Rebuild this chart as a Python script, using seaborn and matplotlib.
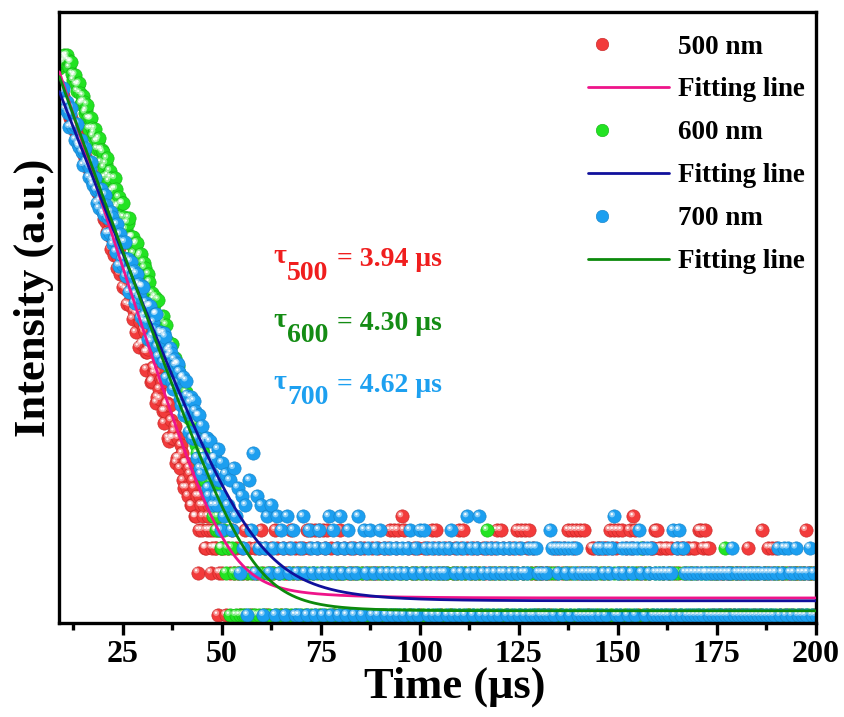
import numpy as np
import pandas as pd
import matplotlib
matplotlib.use("Agg")
import matplotlib.pyplot as plt
from matplotlib.path import Path
from matplotlib.lines import Line2D
from matplotlib.legend_handler import HandlerTuple
from matplotlib.ticker import FixedLocator, MultipleLocator, NullLocator
import seaborn as sns

# ---------------------------------------------------------------------------
# Decay traces (photon counts).
# Fast part: 0.25 us bins from 9.0 us; tail: 0.5 us bins from 50.0 us.
# ---------------------------------------------------------------------------
decay_t0, decay_step = 9.0, 0.25
tail_t0, tail_step = 50.0, 0.5

decay_500 = [
    5500, 5450, 5000, 4950, 4800, 4400, 4250, 4200, 3850, 3800, 3650, 3350, 3350, 3100, 2950, 2950, 2700, 2700, 2480, 2450,
    2350, 2180, 2150, 2000, 1900, 1880, 1750, 1720, 1600, 1570, 1460, 1440, 1330, 1320, 1230, 1200, 1110, 1100, 1020, 1000,
    955, 868, 915, 749, 794, 641, 788, 612, 517, 644, 495, 608, 394, 473, 520, 359, 384, 425, 289, 347,
    399, 263, 297, 327, 212, 268, 305, 205, 160, 229, 238, 157, 177, 212, 126, 144, 166, 101, 137, 150,
    80, 120, 135, 84, 85, 107, 102, 73, 55, 73, 77, 83, 85, 45, 46, 57, 52, 56, 32, 35,
    52, 40, 34, 47, 45, 28, 23, 28, 31, 32, 18, 17, 31, 24, 18, 18, 20, 22, 12, 13,
    18, 13, 11, 16, 14, 9, 8, 12, 12, 8, 7, 11, 10, 6, 6, 9, 8, 5, 5, 7,
    2, 4, 7, 6, 4, 5, 6, 3, 3, 4, 5, 6, 4, 2, 3, 4, 5, 3, 3, 5, 1, 2, 4, 3,
]
tail_500 = [
    2, 3, 1, 3, 2, 4, 2, 3, 2, 1, 3, 2, 4, 2, 3, 1, 2, 3,
    2, 3, 4, 2, 3, 1, 2, 3, 2, 4, 3, 2, 1, 3, 2, 2, 3, 4, 2, 3,
    2, 3, 2, 3, 2, 4, 3, 4, 2, 4, 3, 4, 2, 4, 3, 4, 2, 3, 1, 2,
    3, 2, 4, 2, 3, 1, 2, 3, 2, 3, 2, 1, 3, 2, 3, 2, 1, 2, 3, 2,
    2, 3, 2, 1, 3, 2, 3, 4, 2, 4, 3, 4, 2, 5, 4, 2, 3, 1, 2, 3,
    2, 3, 1, 2, 3, 2, 3, 2, 4, 3, 4, 2, 3, 1, 2, 3, 2, 3, 1, 2,
    3, 2, 4, 3, 4, 2, 3, 1, 2, 3, 2, 3, 2, 1, 3, 2, 3, 2, 3, 2,
    3, 4, 2, 4, 3, 2, 1, 3, 2, 3, 2, 4, 3, 4, 2, 4, 3, 4, 2, 3,
    2, 2, 1, 2, 2, 1, 2, 2, 1, 2, 3, 2, 3, 1, 2, 3, 2, 4, 2, 4,
    3, 4, 2, 4, 2, 4, 2, 1, 2, 3, 3, 2, 3, 3, 2, 3, 3, 2, 4, 3,
    4, 3, 4, 2, 4, 2, 3, 2, 4, 3, 5, 4, 2, 1, 2, 3, 2, 1, 2, 3,
    3, 4, 4, 3, 3, 2, 3, 3, 2, 3, 1, 2, 3, 2, 3, 3, 2, 3, 3, 2,
    3, 3, 2, 4, 4, 3, 4, 3, 3, 2, 1, 2, 2, 1, 2, 2, 1, 2, 2, 1,
    2, 1, 2, 2, 1, 2, 2, 1, 3, 2, 2, 1, 2, 2, 1, 4, 2, 2, 3, 2,
    3, 2, 3, 2, 1, 2, 2, 1, 2, 2, 1, 2, 2, 2, 1, 2, 2, 4, 2, 2,
    2, 1, 2,
]

decay_600 = [
    7600, 7940, 8700, 8350, 8450, 9290, 9100, 8840, 9350, 8610, 7640, 8340, 8360, 6880, 6210, 6610, 6800, 5790, 5180, 5720,
    5880, 5010, 4220, 4340, 4810, 4380, 3660, 3800, 4170, 3330, 2810, 3290, 3320, 2820, 2480, 2630, 2810, 2280, 2020, 2300,
    2400, 1995, 1620, 2000, 1910, 1490, 1270, 1590, 1730, 1310, 1190, 1410, 1260, 1010, 822, 1047, 1250, 1050, 775, 801,
    915, 675, 607, 833, 830, 661, 600, 543, 460, 605, 656, 476, 431, 480, 481, 367, 299, 426, 436, 312,
    281, 348, 362, 259, 220, 316, 289, 204, 206, 219, 261, 230, 143, 146, 191, 174, 158, 181, 102, 124,
    172, 101, 102, 127, 121, 131, 75, 81, 114, 87, 75, 59, 53, 83, 83, 59, 60, 66, 44, 44,
    58, 52, 42, 40, 48, 45, 33, 30, 38, 36, 26, 25, 30, 28, 20, 19, 25, 23, 16, 14,
    20, 18, 12, 11, 15, 14, 9, 9, 13, 11, 7, 7, 10, 9, 6, 5, 8, 7, 4, 4, 5, 4, 6, 3,
]
tail_600 = [
    3, 4, 2, 3, 1, 3, 2, 1, 2, 1, 2, 1, 1, 2, 1, 2, 1, 1,
    2, 1, 2, 1, 1, 2, 1, 2, 2, 1, 1, 2, 1, 2, 1, 1, 2, 1, 2, 1,
    1, 2, 1, 2, 1, 1, 2, 1, 2, 1, 2, 1, 1, 2, 1, 2, 1, 2, 1, 1,
    2, 1, 2, 1, 2, 1, 1, 2, 1, 2, 1, 2, 1, 2, 1, 1, 2, 1, 2, 1,
    1, 2, 1, 2, 1, 2, 2, 1, 2, 1, 1, 2, 1, 2, 1, 2, 1, 1, 2, 1,
    2, 1, 2, 1, 1, 2, 1, 2, 1, 2, 1, 1, 2, 1, 2, 1, 2, 1, 1, 2,
    1, 2, 1, 2, 1, 2, 1, 1, 2, 1, 2, 1, 2, 1, 2, 1, 4, 1, 2, 1,
    2, 1, 2, 1, 2, 1, 1, 2, 1, 2, 1, 2, 1, 1, 2, 1, 2, 1, 2, 1,
    1, 2, 1, 2, 1, 1, 2, 1, 2, 1, 2, 1, 2, 1, 1, 2, 1, 2, 1, 2,
    1, 2, 1, 1, 2, 1, 2, 1, 2, 1, 2, 1, 1, 2, 1, 2, 1, 2, 1, 1,
    2, 1, 2, 1, 2, 1, 1, 2, 1, 2, 1, 2, 1, 2, 3, 1, 2, 1, 2, 1,
    1, 2, 1, 2, 1, 2, 1, 1, 2, 1, 2, 1, 2, 1, 1, 2, 1, 2, 1, 2,
    1, 2, 1, 1, 2, 1, 2, 1, 2, 1, 2, 1, 2, 1, 1, 2, 3, 1, 2, 1,
    2, 1, 2, 1, 2, 1, 1, 2, 1, 2, 1, 2, 1, 2, 1, 1, 2, 1, 2, 1,
    1, 2, 1, 2, 1, 2, 1, 2, 1, 1, 2, 1, 2, 1, 2, 1, 2, 1, 1, 2,
    1, 2, 1,
]

decay_700 = [
    5600, 5380, 4380, 5170, 5420, 4280, 3880, 4330, 4350, 3660, 2890, 3550, 3960, 3000, 2880, 3030, 2350, 2920, 3040, 2180,
    2090, 2220, 2330, 1930, 1550, 1950, 2050, 1650, 1625, 1555, 1270, 1490, 1630, 1200, 1125, 1285, 1250, 1035, 835, 1050,
    764, 868, 1050, 920, 716, 687, 953, 811, 507, 650, 686, 510, 719, 664, 425, 459, 490, 377, 588, 477,
    300, 501, 443, 333, 302, 341, 441, 252, 272, 334, 195, 281, 321, 210, 249, 274, 164, 189, 263, 213,
    223, 179, 129, 215, 213, 122, 133, 164, 152, 120, 90, 155, 156, 87, 95, 119, 105, 136, 137, 80,
    68, 88, 102, 98, 71, 62, 100, 94, 48, 60, 75, 68, 78, 72, 45, 40, 65, 59, 44, 61,
    60, 53, 34, 31, 48, 49, 26, 28, 46, 36, 28, 20, 32, 35, 18, 18, 33, 28, 18, 13,
    26, 26, 11, 10, 22, 17, 13, 11, 18, 18, 8, 7, 17, 12, 10, 6, 13, 13, 7, 6, 15, 9, 7, 4,
]
tail_700 = [
    12, 5, 10, 6, 9, 4, 11, 5, 8, 2, 7, 3, 6, 1, 9, 4, 14, 2,
    7, 3, 6, 1, 3, 5, 2, 6, 3, 1, 5, 2, 4, 3, 1, 5, 2, 3, 4, 1,
    2, 1, 3, 5, 2, 1, 4, 3, 2, 1, 3, 4, 2, 1, 3, 2, 5, 1, 4, 2,
    3, 1, 5, 2, 3, 1, 4, 2, 3, 1, 2, 5, 3, 1, 4, 2, 3, 4, 1, 2,
    3, 1, 4, 2, 3, 1, 2, 3, 1, 2, 3, 1, 2, 3, 1, 2, 3, 4, 1, 2,
    3, 1, 4, 2, 4, 3, 1, 2, 3, 1, 2, 3, 1, 2, 3, 2, 1, 3, 4, 1,
    2, 3, 1, 2, 3, 1, 5, 2, 3, 1, 2, 3, 5, 1, 2, 3, 1, 2, 3, 1,
    2, 3, 1, 2, 3, 2, 1, 3, 2, 1, 3, 2, 1, 3, 2, 1, 2, 3, 1, 3,
    1, 3, 2, 1, 2, 1, 2, 1, 4, 3, 1, 3, 2, 3, 1, 3, 2, 3, 1, 3,
    2, 3, 1, 2, 1, 2, 1, 2, 1, 2, 1, 2, 3, 1, 3, 2, 1, 3, 2, 3,
    5, 1, 2, 1, 3, 2, 3, 1, 3, 2, 3, 1, 3, 4, 2, 3, 1, 3, 2, 3,
    1, 2, 1, 2, 1, 2, 1, 2, 1, 2, 4, 1, 3, 4, 1, 3, 2, 1, 2, 1,
    2, 1, 2, 1, 2, 1, 2, 2, 1, 2, 1, 2, 1, 2, 1, 2, 1, 2, 1, 2,
    3, 1, 2, 1, 2, 1, 2, 1, 2, 1, 2, 1, 2, 1, 2, 1, 2, 1, 2, 1,
    2, 1, 2, 3, 1, 2, 3, 1, 3, 2, 1, 2, 3, 1, 2, 1, 2, 1, 2, 3,
    1, 2, 1,
]

# Bi-exponential fits: A1, tau1 (us), A2, tau2 (us), background
fit_500 = [7100.0, 5.0, 4.5, 16.0, 1.32]
fit_600 = [5100.0, 6.0, 40.0, 13.0, 1.26]
fit_700 = [6550.0, 5.6, 16.5, 12.0, 1.07]

series_labels = ["500 nm", "600 nm", "700 nm"]
lifetime_subscripts = ["500", "600", "700"]
lifetime_values = ["3.94", "4.30", "4.62"]
x_ticks = [25, 50, 75, 100, 125, 150, 175, 200]

# ---------------------------------------------------------------------------
# Styling
# ---------------------------------------------------------------------------
sns.set_style("white")
plt.rcParams["font.family"] = ["Liberation Serif", "DejaVu Serif"]
plt.rcParams["font.weight"] = "bold"
plt.rcParams["axes.labelweight"] = "bold"
plt.rcParams["text.color"] = "black"
plt.rcParams["axes.labelcolor"] = "black"
plt.rcParams["xtick.color"] = "black"
plt.rcParams["ytick.color"] = "black"

ball_colors = ["#f23b3b", "#22e322", "#1c9ff0"]
ball_edges = ["#c42424", "#14b014", "#1580c4"]
fit_colors = ["#ee148a", "#10109c", "#0c8a0c"]
tau_colors = ["#f01e1e", "#148c14", "#1da0f0"]


def shine_path(cx, cy, r):
    """Offset disc used as the specular spot on the ball markers."""
    circ = Path.unit_circle()
    verts = np.vstack([[[-0.5, -0.5], [0.5, 0.5]], circ.vertices * r + [cx, cy]])
    codes = np.concatenate([[Path.MOVETO, Path.MOVETO], circ.codes])
    return Path(verts, codes)


glow = shine_path(-0.12, 0.15, 0.22)
spot = shine_path(-0.14, 0.17, 0.09)


def trace_frame(decay, tail):
    decay = np.asarray(decay, dtype=float)
    tail = np.asarray(tail, dtype=float)
    time = np.concatenate([decay_t0 + decay_step * np.arange(len(decay)),
                           tail_t0 + tail_step * np.arange(len(tail))])
    df = pd.DataFrame({"time": time, "counts": np.concatenate([decay, tail])})
    return df[df["counts"] > 0]


fig = plt.figure(figsize=(8.45, 7.17), dpi=100)
ax = fig.add_axes([59 / 845, 94 / 717, 757 / 845, 611 / 717])
ax.set_yscale("log")

marker_area = 92
traces = [(decay_500, tail_500), (decay_600, tail_600), (decay_700, tail_700)]
for (decay, tail), col, edge in zip(traces, ball_colors, ball_edges):
    df = trace_frame(decay, tail)
    sns.scatterplot(data=df, x="time", y="counts", ax=ax, color=col, edgecolor=edge,
                    linewidth=0.4, s=marker_area, legend=False, zorder=2)
    sns.scatterplot(data=df, x="time", y="counts", ax=ax, marker=glow, color="white",
                    edgecolor="none", linewidth=0, alpha=0.45, s=marker_area, legend=False, zorder=2)
    sns.scatterplot(data=df, x="time", y="counts", ax=ax, marker=spot, color="white",
                    edgecolor="none", linewidth=0, alpha=0.95, s=marker_area, legend=False, zorder=2)

t_fit = np.linspace(decay_t0, 200.5, 900)
for params, col in zip([fit_500, fit_600, fit_700], fit_colors):
    a1, tau1, a2, tau2, base = params
    curve = a1 * np.exp(-(t_fit - decay_t0) / tau1) + a2 * np.exp(-(t_fit - decay_t0) / tau2) + base
    sns.lineplot(x=t_fit, y=curve, ax=ax, color=col, linewidth=2.0, legend=False, zorder=3)

# ---------------------------------------------------------------------------
# Axes
# ---------------------------------------------------------------------------
ax.set_xlim(8.9, 200.1)
ax.set_ylim(0.877, 18900)
ax.xaxis.set_major_locator(FixedLocator(x_ticks))
ax.xaxis.set_minor_locator(MultipleLocator(12.5))
ax.yaxis.set_major_locator(NullLocator())
ax.yaxis.set_minor_locator(NullLocator())
ax.tick_params(axis="x", which="major", direction="out", length=8.5, width=2.4,
               labelsize=23, pad=4, bottom=True, top=False, colors="black")
ax.tick_params(axis="x", which="minor", direction="out", length=5, width=2.4,
               bottom=True, top=False, colors="black")
ax.tick_params(axis="y", which="both", left=False, right=False, labelleft=False)
for lab in ax.get_xticklabels():
    lab.set_fontweight("bold")
for sp in ax.spines.values():
    sp.set_linewidth(2.4)
    sp.set_color("black")

ax.set_xlabel("Time (μs)", fontsize=32, fontweight="bold", color="black")
ax.set_ylabel("Intensity (a.u.)", fontsize=32, fontweight="bold", color="black")
ax.xaxis.set_label_coords(0.523, -0.072)
ax.yaxis.set_label_coords(-0.006, 0.532)

# ---------------------------------------------------------------------------
# Lifetime annotations
# ---------------------------------------------------------------------------
tau_rows = [(0.5892, 0.5614, 0.5843), (0.4845, 0.4599, 0.4795), (0.3830, 0.3584, 0.3781)]
for (y_tau, y_sub, y_val), sub, val, col in zip(tau_rows, lifetime_subscripts, lifetime_values, tau_colors):
    ax.text(0.2827, y_tau, "τ", transform=ax.transAxes, fontsize=20, fontweight="bold",
            color=col, ha="left", va="baseline")
    ax.text(0.3012, y_sub, sub, transform=ax.transAxes, fontsize=20, fontweight="bold",
            color=col, ha="left", va="baseline")
    ax.text(0.3672, y_val, f"= {val} μs", transform=ax.transAxes, fontsize=20, fontweight="bold",
            color=col, ha="left", va="baseline")

# ---------------------------------------------------------------------------
# Legend
# ---------------------------------------------------------------------------
handles, labels = [], []
for name, col, edge, fcol in zip(series_labels, ball_colors, ball_edges, fit_colors):
    ball = Line2D([], [], ls="none", marker="o", ms=9, mfc=col, mec=edge, mew=0.4)
    g = Line2D([], [], ls="none", marker=glow, ms=9, mfc="white", mec="none", alpha=0.45)
    s = Line2D([], [], ls="none", marker=spot, ms=9, mfc="white", mec="none", alpha=0.95)
    handles.append((ball, g, s))
    labels.append(name)
    handles.append(Line2D([], [], color=fcol, lw=2.0))
    labels.append("Fitting line")

leg = ax.legend(handles, labels, handler_map={tuple: HandlerTuple(ndivide=None)},
                loc="upper left", bbox_to_anchor=(0.699, 0.963), frameon=False,
                borderpad=0, borderaxespad=0, handlelength=3.0, handletextpad=0.3,
                labelspacing=0.66, prop={"size": 19.5, "weight": "bold"})
for txt in leg.get_texts():
    txt.set_color("black")

fig.savefig("out.png", dpi=100)
